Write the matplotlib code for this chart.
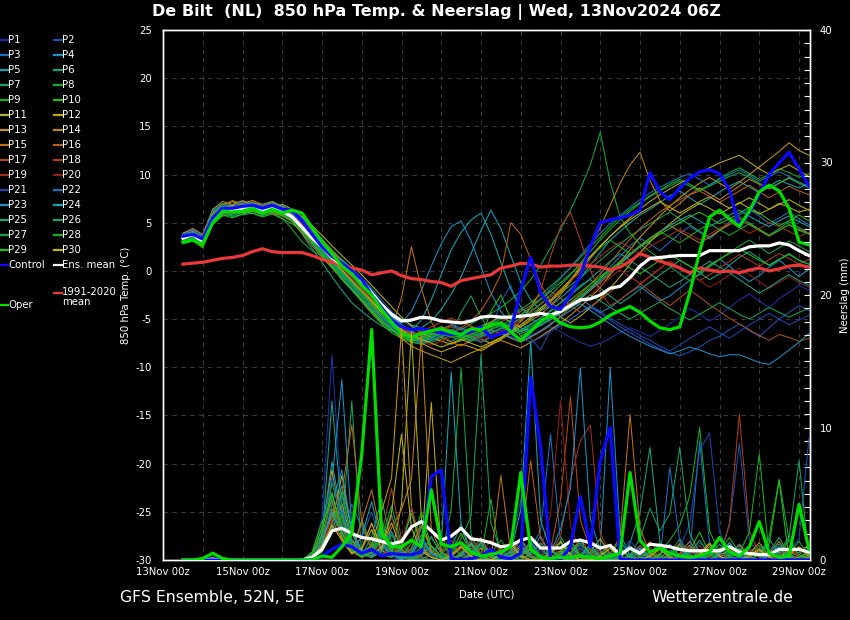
import numpy as np
import matplotlib
matplotlib.use('Agg')
import matplotlib.pyplot as plt
from matplotlib.lines import Line2D
from matplotlib.ticker import MultipleLocator

# ---------------- data ----------------
# 6-hourly steps, first step 13Nov 12z (day 0.5 after 13Nov 00z), 64 steps
n_steps = 64
first_day = 0.5
step_days = 0.25

xtick_days = [0, 2, 4, 6, 8, 10, 12, 14, 16]
xtick_labels = ['13Nov 00z', '15Nov 00z', '17Nov 00z', '19Nov 00z', '21Nov 00z',
                '23Nov 00z', '25Nov 00z', '27Nov 00z', '29Nov 00z']
temp_ticks = [-30, -25, -20, -15, -10, -5, 0, 5, 10, 15, 20, 25]
precip_ticks = [0, 10, 20, 30, 40]

ens_mean_temp = [3.4, 3.8, 3.0, 5.5, 6.3, 6.4, 6.5, 6.6,
                 6.3, 6.6, 6.2, 5.6, 4.5, 3.4, 2.5, 1.4,
                 0.6, -0.3, -1.1, -2.3, -3.5, -4.5, -5.2, -5.1,
                 -4.8, -4.9, -5.2, -5.3, -5.4, -5.2, -4.8, -4.7,
                 -4.8, -4.8, -4.7, -4.6, -4.4, -4.6, -4.2, -3.6,
                 -3.0, -2.9, -2.5, -1.8, -1.6, -0.7, 0.5, 1.3,
                 1.4, 1.5, 1.6, 1.6, 1.6, 2.1, 2.1, 2.1,
                 2.1, 2.5, 2.6, 2.6, 2.9, 2.7, 2.1, 1.6]
clim_temp = [0.7, 0.8, 0.9, 1.1, 1.3, 1.4, 1.6, 2.0,
             2.3, 2.0, 1.9, 1.9, 1.9, 1.6, 1.2, 0.9,
             0.6, 0.3, 0.1, -0.4, -0.2, 0.0, -0.5, -0.8,
             -0.9, -1.1, -1.2, -1.6, -1.0, -0.8, -0.6, -0.4,
             0.3, 0.5, 0.8, 0.7, 0.4, 0.5, 0.5, 0.6,
             0.6, 0.5, 0.4, 0.1, 0.4, 1.0, 1.8, 1.4,
             1.0, 0.7, 0.3, -0.2, 0.3, 0.1, -0.1, 0.0,
             -0.2, 0.1, 0.3, 0.0, 0.2, 0.5, 0.6, 0.4]
control_temp = [3.6, 3.8, 3.3, 5.5, 6.5, 6.5, 6.7, 6.8,
                6.5, 6.8, 6.4, 6.3, 5.2, 3.8, 2.5, 1.5,
                0.8, 0.0, -0.9, -2.5, -3.8, -5.1, -5.8, -6.1,
                -6.0, -6.2, -6.4, -6.6, -6.5, -6.3, -5.8, -6.9,
                -6.5, -6.1, -2.0, 1.4, -2.3, -3.7, -4.0, -2.5,
                -0.5, 2.5, 5.0, 5.3, 5.5, 5.8, 6.3, 10.2,
                8.2, 7.4, 8.6, 9.6, 10.3, 10.5, 10.1, 8.4,
                4.6, 6.0, 8.0, 10.0, 11.2, 12.3, 10.6, 8.8]
oper_temp = [3.0, 3.2, 2.8, 5.0, 6.2, 6.1, 6.2, 6.5,
             6.0, 6.4, 6.0, 6.3, 6.0, 4.5, 3.0, 1.8,
             0.5, -0.3, -1.5, -2.5, -4.0, -5.3, -6.5, -6.9,
             -6.5, -6.2, -6.0, -6.4, -6.6, -6.0, -6.1, -5.6,
             -5.4, -6.3, -7.2, -6.3, -5.2, -4.6, -5.4, -5.8,
             -5.9, -5.8, -5.3, -4.6, -4.1, -3.7, -4.3, -5.2,
             -5.9, -6.1, -5.8, -2.3, 2.0, 5.6, 6.3, 5.4,
             4.6, 6.2, 8.2, 8.9, 8.3, 6.5, 3.0, 2.7]

ens_mean_precip = [0, 0, 0, 0.05, 0, 0, 0, 0,
                   0, 0, 0, 0, 0, 0.2, 0.8, 2.2,
                   2.4, 2.0, 1.7, 1.6, 1.4, 1.2, 1.4, 2.5,
                   2.9, 2.2, 1.5, 1.8, 2.4, 1.6, 1.5, 1.3,
                   1.0, 1.1, 1.5, 1.7, 0.9, 0.9, 0.9, 1.4,
                   1.5, 1.3, 0.9, 1.1, 0.4, 0.9, 0.5, 1.2,
                   1.1, 1.0, 0.8, 0.7, 0.7, 0.7, 0.7, 1.0,
                   0.6, 0.5, 0.4, 0.4, 0.8, 0.8, 0.8, 0.6]
control_precip = [0, 0, 0, 0, 0, 0, 0, 0,
                  0, 0, 0, 0, 0, 0, 0.3, 0.8,
                  1.2, 1.0, 0.5, 0.8, 0.3, 0.5, 0.4, 0.4,
                  0.6, 6.3, 6.8, 0.1, 0, 0.1, 0.3, 0.8,
                  0.2, 0.1, 0.5, 13.8, 8.5, 0.1, 0, 1.0,
                  4.8, 1.0, 7.5, 10.0, 0.1, 0, 0, 0,
                  0, 0, 0, 0, 0, 0, 0, 0,
                  0, 0, 0, 0, 0, 0, 0, 0]
oper_precip = [0, 0, 0.1, 0.5, 0.1, 0, 0, 0,
               0, 0, 0, 0, 0, 0, 0.3, 0.2,
               1.0, 2.0, 8.0, 17.4, 2.0, 1.0, 1.0, 1.5,
               1.0, 5.3, 1.2, 1.0, 1.3, 0.6, 0.3, 0.4,
               0.6, 1.0, 6.6, 0.8, 0.2, 0.1, 0.2, 0.2,
               0.3, 0.2, 0.1, 0.3, 0.5, 6.6, 1.5, 0.6,
               0.9, 0.5, 0.3, 0.2, 0.3, 0.6, 1.7, 0.6,
               0.3, 1.0, 2.9, 0.5, 0.2, 0.3, 4.2, 0.8]

# perturbation members: 850 hPa temperature (°C)
t_p1 = [3.5, 3.9, 3.2, 5.8, 6.6, 6.9, 6.5, 6.8, 6.4, 6.9, 6.5, 5.9, 4.8, 3.6, 2.2, 1.0,
        0.2, -0.8, -1.9, -3.2, -4.6, -5.8, -6.5, -6.9, -7.2, -6.8, -6.5, -6.9, -7.3, -7.0, -6.6, -6.2,
        -6.5, -6.8, -7.1, -6.7, -6.2, -5.8, -6.3, -6.9, -7.4, -7.8, -7.5, -7.0, -6.4, -5.9, -6.3, -6.8,
        -6.2, -5.5, -4.8, -3.9, -4.5, -5.2, -4.6, -3.8, -3.0, -2.4, -3.1, -3.8, -2.9, -2.2, -1.5, -2.0]
t_p2 = [3.8, 4.2, 3.5, 6.0, 6.8, 6.6, 6.9, 7.1, 6.7, 6.5, 6.8, 6.2, 5.5, 4.4, 3.0, 1.8,
        1.0, 0.2, -0.7, -1.8, -3.0, -4.2, -5.1, -5.8, -6.2, -6.6, -6.1, -5.7, -6.0, -6.4, -6.8, -6.3,
        -3.2, -1.5, -4.8, -7.0, -8.2, -6.1, -5.6, -5.0, -4.3, -3.8, -4.4, -5.1, -5.8, -6.4, -7.0, -7.6,
        -8.1, -8.5, -8.8, -8.4, -7.9, -7.2, -6.8, -6.1, -5.5, -6.2, -6.8, -5.9, -5.0, -4.3, -3.6, -4.1]
t_p3 = [3.2, 3.6, 2.8, 5.4, 6.2, 6.0, 6.3, 6.5, 6.1, 6.4, 6.0, 5.2, 4.0, 2.8, 1.6, 0.5,
        -0.5, -1.6, -2.9, -4.0, -5.2, -6.1, -6.8, -7.2, -6.9, -6.5, -6.0, -5.6, -5.9, -6.3, -6.0, -5.4,
        -4.8, -5.3, -5.9, -6.2, -5.7, -5.0, -4.3, -3.5, -2.8, -1.9, -0.8, 0.4, 1.5, 2.6, 3.4, 2.8,
        2.1, 3.0, 3.9, 4.6, 4.0, 3.3, 4.2, 5.1, 5.8, 6.4, 5.7, 4.9, 5.5, 6.1, 5.4, 4.8]
t_p4 = [3.9, 4.3, 3.7, 6.3, 7.0, 6.8, 7.2, 7.0, 6.6, 6.9, 6.4, 6.0, 5.1, 4.0, 2.9, 1.9,
        1.2, 0.3, -0.8, -2.0, -3.3, -4.5, -5.4, -4.2, -2.0, 0.5, 2.8, 4.6, 5.2, 3.1, 0.4, -2.3,
        -4.2, -5.5, -6.3, -6.0, -5.4, -4.8, -4.1, -3.5, -2.9, -3.6, -4.3, -3.8, -3.0, -2.2, -1.6, -2.4,
        -3.1, -2.6, -1.8, -1.0, -0.3, 0.6, 1.2, 0.5, -0.4, -1.1, -0.5, 0.4, 1.1, 0.3, -0.6, 0.2]
t_p5 = [3.6, 4.0, 3.1, 5.7, 6.4, 6.7, 6.3, 6.9, 6.5, 6.8, 6.3, 5.7, 4.6, 3.3, 2.1, 1.2,
        0.4, -0.5, -1.4, -2.6, -3.7, -4.4, -5.0, -5.6, -5.9, -5.2, -4.0, -2.4, -0.6, 1.8, 4.2, 6.3,
        4.4, 1.6, -1.2, -3.0, -4.1, -3.6, -2.8, -1.9, -0.8, 0.6, 1.9, 3.2, 4.1, 5.0, 5.8, 6.4,
        7.1, 7.8, 8.3, 7.6, 6.9, 7.5, 8.2, 8.8, 9.3, 8.7, 8.1, 8.8, 9.4, 9.0, 8.6, 9.1]
t_p6 = [3.0, 3.3, 2.6, 5.0, 5.9, 6.2, 5.8, 6.0, 5.7, 6.1, 5.8, 5.3, 3.8, 2.3, 0.9, -0.6,
        -2.0, -3.3, -4.2, -5.0, -5.7, -6.2, -6.5, -6.3, -6.0, -6.4, -6.9, -7.3, -6.8, -6.2, -5.7, -5.3,
        -5.8, -6.4, -6.1, -5.5, -4.9, -4.2, -3.3, -2.4, -1.5, -0.9, -1.8, -2.6, -3.4, -2.7, -1.9, -1.2,
        -0.4, 0.3, 1.1, 0.5, -0.2, -0.9, -0.3, 0.6, 1.4, 2.0, 1.3, 0.6, 1.2, 1.8, 1.1, 0.7]
t_p7 = [3.4, 3.7, 2.9, 5.2, 6.0, 6.5, 6.8, 6.4, 6.0, 6.3, 6.6, 6.2, 5.4, 4.5, 3.3, 2.2,
        1.1, 0.2, -0.9, -2.1, -3.4, -4.7, -5.9, -6.6, -7.0, -7.4, -7.1, -6.7, -4.3, -2.6, -4.8, -6.5,
        -6.0, -5.6, -5.1, -4.5, -3.8, -3.1, -2.3, -1.5, -0.7, 0.2, 1.1, 2.0, 2.8, 3.6, 4.3, 4.9,
        5.5, 6.1, 5.4, 4.8, 4.1, 3.5, 4.2, 4.9, 5.6, 5.0, 4.3, 3.7, 4.4, 5.1, 4.5, 3.9]
t_p8 = [3.1, 3.4, 2.7, 5.3, 6.1, 5.6, 5.9, 6.2, 5.8, 6.0, 5.5, 4.3, 3.0, 2.1, 1.5, 0.6,
        -0.4, -1.5, -2.7, -3.9, -5.0, -5.8, -6.3, -6.8, -7.1, -6.7, -6.2, -5.8, -6.1, -5.5, -4.9, -4.4,
        -3.8, -3.0, -2.1, -0.9, 0.6, 2.4, 4.3, 6.3, 8.5, 11.0, 14.4, 9.2, 5.6, 3.9, 2.8, 2.0,
        1.3, 0.5, -0.3, -1.0, -0.4, 0.4, 1.2, 1.9, 2.6, 3.2, 2.5, 1.8, 2.4, 3.1, 2.6, 2.0]
t_p9 = [3.3, 3.5, 2.9, 5.6, 6.3, 6.1, 6.6, 6.8, 6.4, 6.7, 6.1, 5.5, 4.2, 3.1, 1.9, 0.9,
        0.0, -1.0, -2.0, -3.1, -4.3, -5.3, -6.0, -6.5, -6.8, -6.4, -6.0, -6.3, -6.7, -6.4, -5.9, -5.5,
        -5.0, -4.6, -4.0, -3.3, -2.5, -1.6, -0.7, 0.3, 1.4, 2.5, 3.5, 4.6, 5.6, 6.4, 7.1, 7.8,
        8.4, 9.0, 9.5, 9.0, 8.4, 8.9, 9.6, 10.2, 10.7, 10.1, 9.5, 10.0, 10.6, 10.2, 9.7, 10.1]
t_p10 = [2.8, 3.1, 2.4, 4.8, 5.7, 5.9, 6.2, 6.0, 5.6, 5.9, 5.4, 4.9, 4.1, 3.0, 1.7, 0.4,
         -0.9, -2.0, -3.2, -4.4, -5.5, -6.4, -7.0, -7.4, -7.6, -7.2, -6.8, -6.5, -6.9, -7.3, -6.9, -4.2,
         -2.5, -5.0, -6.8, -6.2, -5.6, -4.9, -4.1, -3.4, -2.6, -1.7, -0.8, 0.1, 1.0, 1.8, 2.5, 3.1,
         3.8, 4.4, 5.0, 5.6, 6.1, 5.5, 4.9, 5.4, 6.0, 6.6, 6.0, 5.3, 4.7, 5.2, 5.8, 5.2]
t_p11 = [3.7, 4.1, 3.4, 6.1, 6.9, 7.2, 6.7, 6.5, 6.2, 6.6, 6.9, 6.4, 5.6, 4.7, 3.7, 2.6,
         1.6, 0.6, -0.4, -1.5, -2.6, -3.7, -4.8, -5.7, -6.4, -6.9, -7.3, -7.6, -7.2, -6.8, -7.1, -7.5,
         -7.0, -6.3, -5.2, -3.8, -2.1, -3.4, -4.8, -5.4, -4.7, -3.8, -2.9, -1.8, -0.6, 0.7, 1.9, 3.0,
         4.0, 4.9, 5.7, 6.4, 7.0, 6.5, 5.9, 6.5, 7.1, 6.5, 5.9, 6.4, 7.0, 6.6, 6.1, 6.4]
t_p12 = [3.5, 3.8, 3.0, 5.9, 6.7, 6.4, 7.0, 7.3, 6.9, 7.2, 6.7, 6.1, 5.2, 4.1, 2.8, 1.5,
         0.5, -0.6, -1.8, -3.0, -4.2, -5.3, -6.2, -7.0, -7.5, -8.0, -8.4, -8.0, -7.6, -7.9, -8.3, -7.7,
         -7.1, -6.5, -5.8, -5.0, -4.1, -3.2, -2.2, -1.1, 0.1, 1.3, 2.5, 3.6, 4.6, 5.5, 6.4, 7.2,
         7.9, 8.5, 9.1, 9.6, 10.2, 10.7, 11.2, 11.6, 12.0, 11.3, 10.6, 10.0, 10.5, 11.0, 10.4, 9.8]
t_p13 = [3.0, 3.4, 2.6, 5.1, 6.0, 6.3, 6.0, 6.3, 6.0, 6.4, 6.0, 5.6, 4.9, 3.8, 2.6, 1.3,
         0.1, -1.1, -2.3, -3.6, -4.8, -6.0, -7.0, -7.8, -8.3, -8.7, -9.1, -9.5, -9.0, -8.5, -8.1, -7.6,
         -7.2, -7.6, -8.0, -7.4, -6.8, -6.1, -5.4, -4.6, -3.7, -2.8, -1.7, -0.4, 0.9, 2.2, 3.5, 4.6,
         5.7, 6.7, 7.6, 8.4, 9.1, 9.7, 9.1, 8.5, 9.2, 10.0, 10.8, 11.6, 12.4, 13.3, 12.5, 12.0]
t_p14 = [3.9, 4.4, 3.8, 6.4, 7.2, 6.9, 7.3, 6.9, 6.5, 6.8, 6.5, 6.1, 5.3, 4.3, 3.2, 2.1,
         1.0, -0.1, -1.2, -2.3, -3.5, -4.6, -5.6, -6.3, -6.7, -6.2, -5.8, -6.2, -6.6, -6.3, -5.9, -5.3,
         -4.7, -5.3, -5.8, -5.2, -4.5, -3.6, -2.5, -1.1, 0.6, 2.4, 4.5, 6.8, 9.1, 11.0, 12.3, 9.4,
         7.3, 6.2, 7.0, 7.9, 8.6, 8.0, 7.4, 8.1, 8.8, 9.5, 9.0, 8.5, 9.1, 9.7, 9.2, 8.7]
t_p15 = [3.3, 3.6, 2.7, 5.5, 6.2, 6.0, 6.4, 6.7, 6.3, 6.0, 5.7, 5.1, 3.9, 2.6, 1.4, 0.3,
         -0.8, -1.9, -3.1, -4.3, -5.4, -6.0, -2.8, 2.5, -1.8, -5.3, -6.9, -7.4, -7.8, -7.2, -6.6, -6.1,
         -6.5, -7.0, -7.4, -6.9, -6.3, -5.6, -4.7, -3.8, -2.9, -2.0, -1.2, -0.3, 0.7, 1.6, 2.5, 3.3,
         4.0, 4.7, 4.1, 3.5, 2.9, 3.5, 4.2, 4.8, 5.4, 4.8, 4.2, 3.6, 4.2, 4.8, 4.3, 3.9]
t_p16 = [3.6, 4.0, 3.3, 6.0, 6.8, 7.3, 7.0, 6.6, 6.3, 6.6, 6.3, 5.8, 5.0, 4.0, 3.0, 1.9,
         0.8, -0.3, -1.4, -2.5, -3.6, -4.7, -5.7, -6.4, -6.8, -7.2, -6.9, -6.4, -5.9, -5.2, -4.1, -2.5,
         -0.3, 5.0, 3.8, 1.2, -1.4, -3.2, -4.0, -3.3, -2.4, -1.4, -0.3, 0.9, 2.1, 3.3, 4.4, 5.3,
         6.1, 6.8, 7.4, 7.9, 8.3, 7.7, 7.1, 7.7, 8.3, 8.9, 8.2, 7.6, 8.2, 8.8, 8.3, 7.9]
t_p17 = [3.4, 3.7, 3.1, 5.8, 6.6, 6.2, 6.5, 7.0, 6.7, 7.0, 6.6, 6.0, 5.0, 3.9, 2.7, 1.6,
         0.5, -0.5, -1.6, -2.7, -3.8, -4.9, -5.8, -6.5, -6.9, -6.5, -6.1, -5.6, -5.2, -5.7, -6.2, -5.8,
         -5.3, -4.8, -4.2, -3.6, -2.9, -2.1, -2.8, -3.6, -4.3, -3.7, -3.0, -2.2, -1.4, -0.6, -1.3, -2.1,
         -2.9, -3.6, -2.8, -2.0, -2.7, -3.5, -4.2, -4.9, -5.5, -6.1, -6.7, -7.2, -6.6, -6.9, -7.3, -7.0]
t_p18 = [2.9, 3.2, 2.5, 5.0, 5.8, 6.1, 6.5, 6.2, 5.9, 6.2, 5.9, 5.4, 4.5, 3.5, 2.4, 1.3,
         0.3, -0.7, -1.8, -2.9, -4.0, -5.1, -6.0, -6.6, -6.3, -5.8, -5.3, -4.9, -5.3, -5.8, -6.3, -6.8,
         -6.4, -5.9, -5.3, -4.2, -2.0, 1.5, 4.6, 6.1, 3.2, 0.1, -2.3, -3.6, -3.0, -2.2, -1.4, -0.6,
         0.2, 1.0, 0.4, -0.3, -1.0, -0.4, 0.3, 1.0, 1.7, 1.1, 0.5, 1.2, 1.8, 1.3, 0.7, 1.2]
t_p19 = [3.7, 4.0, 3.4, 6.1, 6.8, 6.5, 6.8, 7.2, 6.8, 6.5, 6.1, 5.6, 4.7, 3.6, 2.4, 1.3,
         0.2, -0.9, -2.1, -3.3, -4.5, -5.6, -6.4, -7.0, -7.3, -7.7, -7.3, -6.9, -6.5, -6.9, -7.3, -6.8,
         -6.3, -5.7, -5.0, -4.3, -3.5, -2.7, -1.9, -1.0, -0.2, 0.7, 1.5, 2.3, 3.0, 2.4, 1.8, 2.5,
         3.1, 3.7, 4.3, 3.8, 3.2, 3.8, 4.4, 5.0, 4.5, 3.9, 4.4, 5.0, 4.6, 4.1, 3.6, 4.0]
t_p20 = [3.1, 3.5, 2.8, 5.4, 6.3, 6.6, 6.2, 6.5, 6.2, 6.5, 6.2, 5.7, 4.8, 3.7, 2.5, 1.4,
         0.4, -0.6, -1.7, -2.8, -3.9, -5.0, -5.9, -6.6, -7.0, -6.6, -6.2, -5.8, -6.2, -6.7, -7.1, -6.6,
         -6.0, -5.5, -4.9, -4.3, -4.8, -5.4, -4.8, -4.1, -3.3, -2.5, -1.6, -0.7, 0.1, -0.6, -1.3, -0.5,
         0.3, 1.0, 0.4, -0.3, -1.0, -1.7, -1.1, -0.4, 0.3, -0.4, -1.1, -1.8, -1.2, -0.6, -1.2, -1.7]
t_p21 = [3.5, 3.8, 3.2, 5.7, 6.5, 6.8, 6.6, 6.9, 6.6, 6.3, 6.0, 5.4, 4.3, 3.2, 2.0, 0.8,
         -0.3, -1.4, -2.6, -3.8, -4.9, -5.9, -6.6, -7.1, -7.5, -7.1, -6.7, -6.3, -6.8, -7.2, -6.9, -6.5,
         -6.1, -6.6, -7.0, -7.4, -6.9, -6.3, -5.7, -5.0, -4.3, -3.6, -4.2, -4.9, -5.5, -6.1, -6.7, -7.2,
         -7.8, -8.3, -7.7, -7.0, -6.4, -5.8, -6.4, -7.0, -6.3, -5.6, -5.0, -4.4, -5.0, -5.6, -5.1, -4.6]
t_p22 = [3.8, 4.2, 3.6, 6.2, 7.0, 6.7, 7.1, 6.8, 6.5, 6.8, 6.4, 5.9, 5.0, 3.9, 2.7, 1.6,
         0.6, -0.4, -1.5, -2.6, -3.7, -4.8, -5.7, -6.4, -6.8, -7.2, -6.8, -6.4, -6.0, -6.4, -6.8, -6.4,
         -5.9, -5.3, -4.6, -3.8, -2.9, -1.9, -0.8, 0.4, 1.6, 2.8, 3.9, 4.9, 5.8, 6.6, 7.4, 8.1,
         8.7, 9.2, 9.7, 10.1, 9.5, 8.9, 9.5, 10.0, 10.5, 9.9, 9.3, 9.8, 10.3, 9.8, 9.2, 8.8]
t_p23 = [3.2, 3.6, 2.9, 5.5, 6.4, 6.7, 6.3, 6.6, 6.3, 6.6, 6.2, 5.6, 4.6, 3.5, 2.3, 1.1,
         0.0, -1.1, -2.3, -3.5, -4.7, -5.7, -6.5, -7.1, -7.4, -7.0, -6.5, -6.1, -6.6, -7.0, -7.4, -6.9,
         -6.5, -6.9, -7.3, -6.8, -6.2, -5.5, -4.8, -4.1, -3.4, -4.1, -4.8, -5.5, -6.2, -6.8, -7.3, -7.8,
         -8.2, -8.6, -8.3, -7.9, -8.2, -8.6, -8.9, -8.7, -8.7, -9.1, -9.5, -9.7, -9.0, -8.2, -7.4, -6.5]
t_p24 = [3.6, 3.9, 3.3, 6.0, 6.7, 6.4, 6.8, 7.1, 6.8, 7.1, 6.7, 6.1, 5.1, 4.0, 2.8, 1.7,
         0.7, -0.3, -1.4, -2.5, -3.6, -4.7, -5.6, -6.2, -5.1, -3.0, -0.4, 2.2, 4.0, 5.3, 6.0, 3.8,
         0.9, -1.9, -3.7, -4.9, -5.6, -5.1, -4.4, -3.6, -2.8, -1.9, -1.0, -0.1, 0.8, 1.7, 2.6, 3.4,
         4.1, 4.7, 5.3, 5.8, 5.2, 4.6, 5.2, 5.8, 6.3, 5.7, 5.1, 4.6, 5.2, 5.7, 5.1, 4.6]
t_p25 = [3.0, 3.4, 2.6, 5.2, 6.0, 5.7, 6.1, 6.4, 6.1, 6.4, 6.1, 5.6, 4.4, 3.1, 1.8, 0.6,
         -0.6, -1.8, -3.0, -4.2, -5.3, -6.2, -6.8, -7.2, -6.9, -6.5, -6.1, -6.5, -6.9, -6.6, -6.2, -5.8,
         -5.3, -5.8, -6.2, -5.6, -4.9, -4.1, -3.3, -2.5, -1.7, -0.8, 0.1, 1.0, 1.8, 1.1, 0.4, -0.3,
         -1.0, -1.7, -1.1, -0.4, 0.3, 1.0, 0.4, -0.2, -0.9, -1.6, -2.3, -1.7, -1.0, -0.4, -1.0, -1.5]
t_p26 = [3.4, 3.8, 3.1, 5.6, 6.4, 6.1, 6.5, 6.8, 6.5, 6.2, 5.9, 5.3, 4.3, 3.2, 2.0, 0.9,
         -0.2, -1.3, -2.4, -3.5, -4.6, -5.6, -6.4, -7.0, -7.3, -6.9, -6.5, -6.1, -6.5, -6.9, -6.5, -6.1,
         -5.7, -6.1, -6.5, -6.1, -5.6, -5.0, -4.4, -3.8, -3.2, -2.5, -3.1, -3.8, -4.4, -5.0, -4.4, -3.8,
         -3.2, -3.9, -4.5, -5.1, -4.5, -3.9, -3.3, -3.9, -4.5, -5.0, -4.4, -3.8, -4.3, -4.8, -4.3, -3.9]
t_p27 = [3.2, 3.5, 2.8, 5.3, 6.1, 6.4, 6.1, 6.4, 6.1, 6.4, 6.0, 5.4, 4.3, 3.1, 1.9, 0.8,
         -0.3, -1.4, -2.6, -3.8, -5.0, -6.0, -6.7, -7.3, -7.6, -7.2, -6.8, -6.4, -6.8, -7.2, -6.8, -6.4,
         -6.0, -5.5, -4.9, -4.2, -3.4, -2.5, -1.5, -0.4, 0.8, 2.0, 3.2, 4.3, 5.3, 6.2, 7.0, 7.7,
         8.3, 8.8, 9.3, 8.8, 8.3, 8.8, 9.3, 9.8, 10.2, 9.7, 9.1, 8.6, 9.1, 9.6, 9.1, 8.6]
t_p28 = [3.7, 4.0, 3.4, 6.1, 6.9, 6.6, 6.9, 6.6, 6.3, 6.6, 6.2, 5.6, 4.6, 3.4, 2.2, 1.0,
         -0.1, -1.2, -2.3, -3.4, -4.5, -5.5, -6.3, -6.9, -7.2, -6.8, -6.4, -6.8, -7.2, -6.8, -6.4, -6.0,
         -5.6, -5.1, -4.5, -3.8, -3.0, -2.1, -1.2, -0.3, 0.6, 1.5, 2.4, 3.2, 2.5, 1.8, 2.6, 3.4,
         4.1, 3.5, 2.9, 3.6, 4.3, 4.9, 4.3, 3.7, 4.3, 4.9, 4.3, 3.7, 4.2, 4.8, 4.2, 3.8]
t_p29 = [2.9, 3.2, 2.5, 5.0, 5.8, 5.5, 5.9, 6.2, 5.9, 6.2, 5.8, 5.2, 4.1, 2.9, 1.6, 0.4,
         -0.8, -1.9, -3.0, -4.1, -5.2, -6.1, -6.8, -7.3, -7.0, -6.6, -6.2, -6.6, -7.0, -6.6, -6.2, -5.8,
         -5.4, -5.9, -6.3, -5.8, -5.2, -4.5, -3.8, -3.0, -2.2, -1.4, -0.6, 0.2, 0.9, 0.3, -0.3, 0.4,
         1.1, 1.7, 1.1, 0.5, -0.1, 0.6, 1.2, 1.8, 2.3, 1.7, 1.1, 0.6, 1.2, 1.7, 1.1, 0.7]
t_p30 = [3.3, 3.7, 3.0, 5.7, 6.5, 6.8, 6.4, 6.7, 6.4, 6.7, 6.3, 5.7, 4.7, 3.6, 2.4, 1.2,
         0.1, -1.0, -2.1, -3.2, -4.3, -5.3, -6.1, -6.7, -7.1, -7.5, -7.9, -7.5, -7.1, -7.5, -7.9, -7.4,
         -6.9, -6.3, -5.6, -4.8, -3.9, -3.0, -2.0, -0.9, 0.3, 1.5, 2.6, 3.6, 4.5, 5.3, 6.0, 6.6,
         7.2, 6.6, 6.0, 6.6, 7.2, 7.7, 7.1, 6.5, 7.0, 7.6, 7.0, 6.4, 6.9, 7.4, 6.8, 6.3]

# perturbation members: 6-hourly precipitation (mm)
r_p1 = [0, 0, 0, 0, 0, 0, 0, 0, 0, 0, 0, 0, 0, 0.4, 3.2, 15.5,
        4.1, 1.2, 0.6, 0.3, 0.8, 0.2, 0, 0.5, 1.4, 0.6, 0, 0.2, 0.9, 0.3, 0, 0,
        0.4, 0.2, 0, 0, 0.7, 0.3, 0, 0, 0, 0.5, 1.1, 0.3, 0, 0, 0.2, 0.6,
        0.1, 0, 0, 0.4, 1.3, 0.5, 0, 0, 0.3, 0.9, 0.2, 0, 0.6, 1.8, 0.4, 0.2]
r_p2 = [0, 0, 0, 0.1, 0, 0, 0, 0, 0, 0, 0, 0, 0, 0.2, 1.5, 4.8,
        2.3, 0.9, 1.7, 3.6, 1.1, 0.4, 0.2, 0.8, 0.3, 0, 0.5, 1.9, 0.6, 0, 0, 0.3,
        0.8, 0.2, 0, 0.4, 1.2, 0.3, 0, 0, 0.2, 0.6, 0.1, 0, 0, 0.4, 1.0, 0.2,
        0, 0.3, 0.8, 0.1, 0, 0, 0.5, 2.6, 8.8, 1.5, 0.4, 0, 0.2, 0.7, 1.6, 9.2]
r_p3 = [0, 0, 0, 0, 0, 0, 0, 0, 0, 0, 0, 0, 0, 0.1, 0.9, 2.6,
        1.8, 4.2, 2.5, 0.7, 0.3, 1.4, 0.5, 0.1, 0, 0.4, 1.2, 0.3, 0, 0, 0.6, 0.2,
        0, 0, 0.3, 0.9, 2.2, 9.5, 1.4, 0.4, 1.1, 0.3, 0, 0, 0.2, 0.8, 0.3, 0,
        0, 0, 0.5, 1.4, 0.4, 0, 0, 0.2, 0.6, 0.1, 0, 0.3, 1.0, 0.2, 0, 0]
r_p4 = [0, 0, 0, 0, 0, 0, 0, 0, 0, 0, 0, 0, 0, 0, 0.8, 5.9,
        13.6, 2.4, 0.6, 1.1, 0.4, 0.2, 0.9, 3.8, 1.2, 0.3, 0, 0, 0.5, 0.2, 0, 0.7,
        0.2, 0, 0, 0.6, 1.8, 0.4, 0, 0.3, 1.5, 0.4, 0.8, 14.5, 2.0, 0.3, 0, 0,
        0.4, 1.2, 0.3, 0, 0, 0.6, 0.2, 0, 0, 0.3, 0.9, 0.2, 0, 0.4, 0.1, 0]
r_p5 = [0, 0, 0, 0, 0, 0, 0, 0, 0, 0, 0, 0, 0, 0.3, 2.1, 7.4,
        3.2, 1.0, 0.4, 0.8, 2.6, 0.7, 0.2, 0.5, 2.4, 4.8, 1.1, 14.2, 2.6, 0.4, 0.9, 0.2,
        0, 0.6, 1.7, 0.3, 0, 0, 0.4, 1.1, 0.2, 0, 0, 0.5, 0.2, 0, 0.7, 0.3,
        0, 0, 0.2, 0.8, 0.1, 0, 0, 0.4, 1.2, 0.3, 0, 0, 0.5, 0.2, 0, 0]
r_p6 = [0, 0, 0, 0.2, 0, 0, 0, 0, 0, 0, 0, 0, 0, 0.5, 1.7, 3.3,
        5.6, 2.2, 0.8, 0.4, 1.5, 3.4, 1.0, 0.3, 0.6, 0.2, 0, 0.9, 2.7, 0.6, 0.1, 0,
        0.4, 1.3, 0.2, 0, 0, 0.8, 0.3, 0, 0, 0.2, 0.5, 0.1, 0, 1.3, 3.6, 8.5,
        1.4, 0.3, 0, 0, 0.6, 0.2, 0, 0.3, 0.9, 0.2, 0, 0.4, 1.2, 0.3, 0, 0.1]
r_p7 = [0, 0, 0, 0, 0, 0, 0, 0, 0, 0, 0, 0, 0, 0.2, 1.1, 3.9,
        2.0, 12.0, 0.3, 1.8, 4.6, 1.3, 0.4, 0.2, 0.8, 0.3, 0.1, 0.4, 1.6, 3.3, 15.5, 2.8,
        0.6, 0.2, 0, 0.3, 0.9, 0.2, 0, 0, 0.4, 1.1, 0.3, 0, 0, 0.2, 0.6, 0.1,
        0, 0.5, 1.6, 0.4, 0, 0, 0.3, 0.8, 0.2, 0, 0, 0.6, 1.7, 0.4, 0, 0.2]
r_p8 = [0, 0, 0, 0, 0, 0, 0, 0, 0, 0, 0, 0, 0, 0.1, 0.6, 2.4,
        5.2, 1.6, 0.5, 0.2, 0.7, 2.1, 0.6, 0.3, 1.0, 0.4, 0.2, 3.8, 14.5, 1.9, 0.4, 0,
        0.2, 0.7, 0.2, 0, 0, 0.5, 1.8, 0.4, 0, 0, 0.3, 0.9, 0.2, 0, 0, 0.4,
        1.3, 0.3, 0, 0, 0.2, 0.7, 0.2, 0, 0, 0.4, 1.1, 0.3, 0, 0.2, 0.6, 0.1]
r_p9 = [0, 0, 0, 0.1, 0, 0, 0, 0, 0, 0, 0, 0, 0, 0.4, 2.5, 5.8,
        3.1, 0.9, 0.3, 0.6, 2.2, 0.7, 0.2, 0.8, 2.9, 0.8, 0.2, 0, 0.4, 1.2, 0.3, 4.6,
        0, 0.3, 0.9, 0.2, 0, 0, 0.6, 1.4, 0.3, 0, 0, 0.2, 0.7, 0.2, 0, 0,
        0.5, 1.5, 2.6, 4.8, 10.0, 2.2, 0.5, 0.1, 0, 0.3, 0.8, 0.2, 0, 0.5, 1.4, 0.3]
r_p10 = [0, 0, 0.1, 0.5, 0.1, 0, 0, 0, 0, 0, 0, 0, 0, 0.6, 2.9, 4.4,
         1.7, 0.5, 3.0, 1.1, 0.4, 0.2, 1.2, 3.5, 1.0, 0.3, 0, 0.6, 2.0, 0.5, 0.1, 0,
         0.3, 1.0, 0.2, 0, 0, 0.4, 1.3, 0.3, 0, 0.2, 0.6, 0.1, 0, 0, 0.3, 0.9,
         0.2, 0, 0, 0.7, 2.1, 0.5, 0, 0, 0.2, 0.8, 0.2, 0, 0.4, 1.5, 0.3, 0]
r_p11 = [0, 0, 0, 0, 0, 0, 0, 0, 0, 0, 0, 0, 0, 0.2, 1.3, 3.0,
         1.6, 0.5, 0.8, 2.3, 0.7, 0.4, 4.2, 17.2, 3.1, 0.6, 0.2, 0, 0.5, 1.4, 0.3, 0,
         0, 0.4, 1.0, 0.3, 0, 0, 0.5, 0.2, 0, 0.6, 1.6, 0.4, 0, 0, 0.2, 0.5,
         0.1, 0, 0.4, 1.1, 0.3, 0, 0, 0.3, 0.8, 0.2, 0, 0, 0.6, 0.2, 0, 0]
r_p12 = [0, 0, 0, 0, 0, 0, 0, 0, 0, 0, 0, 0, 0, 0.1, 0.7, 2.8,
         6.4, 2.0, 0.6, 0.3, 1.0, 2.8, 0.8, 0.2, 0.5, 11.9, 0.5, 0.1, 0, 0.3, 0.9, 0.2,
         0, 0, 0.4, 1.3, 0.3, 0, 0, 0.6, 0.2, 0, 0, 0.3, 0.9, 0.2, 0, 0,
         0.4, 0.1, 0, 0, 0.5, 1.3, 0.3, 0, 0, 0.2, 0.7, 0.2, 0, 0.3, 0.9, 0.2]
r_p13 = [0, 0, 0, 0.1, 0, 0, 0, 0, 0, 0, 0, 0, 0, 0.3, 1.9, 6.8,
         2.5, 0.8, 0.3, 1.2, 3.7, 6.2, 17.5, 4.0, 0.9, 0.3, 0, 0.4, 1.1, 0.3, 0, 0,
         0.5, 1.4, 0.4, 0, 0, 0.2, 0.7, 0.2, 0, 0, 0.4, 1.2, 0.3, 0, 0, 0.3,
         0.9, 0.2, 0, 0, 0.4, 1.0, 0.2, 0, 0, 0.5, 1.3, 0.3, 0, 0, 0.4, 0.1]
r_p14 = [0, 0, 0, 0, 0, 0, 0, 0, 0, 0, 0, 0, 0, 0.2, 1.0, 2.2,
         4.3, 1.4, 0.4, 0.2, 0.9, 2.4, 3.8, 6.1, 17.0, 2.3, 0.6, 0.2, 0, 0.4, 1.3, 0.4,
         0, 0, 0.3, 0.8, 0.2, 0, 0, 0.5, 1.6, 0.4, 0, 0, 0.3, 0.9, 0.2, 0,
         0, 0.4, 1.2, 0.3, 0, 0, 0.3, 0.8, 0.2, 0, 0, 0.5, 1.4, 0.3, 0, 0]
r_p15 = [0, 0, 0, 0, 0, 0, 0, 0, 0, 0, 0, 0, 0, 0.1, 0.8, 3.4,
         2.1, 0.6, 2.9, 5.3, 1.6, 0.5, 0.2, 0.9, 2.6, 0.7, 0.2, 0, 0.4, 1.1, 0.3, 0,
         6.4, 0.5, 1.5, 0.4, 0, 0, 0.3, 0.9, 0.2, 0, 0, 0.4, 1.8, 11.0, 2.4, 0.5,
         0.1, 0, 0.3, 0.9, 0.2, 0, 0, 0.4, 1.1, 0.3, 0, 0, 0.3, 0.8, 0.2, 0]
r_p16 = [0, 0, 0, 0.1, 0, 0, 0, 0, 0, 0, 0, 0, 0, 0.2, 1.4, 3.7,
         5.0, 10.2, 2.8, 0.7, 0.3, 1.1, 0.4, 0, 0.3, 1.0, 0.3, 0, 0, 0.6, 1.7, 0.4,
         0, 0.2, 0.9, 7.5, 1.6, 0.4, 0, 0, 0.3, 0.8, 0.2, 0, 0, 0.4, 1.1, 0.3,
         0, 0, 0.5, 1.4, 0.3, 0, 0, 0.2, 0.6, 0.2, 0, 0.3, 0.9, 0.2, 0, 0]
r_p17 = [0, 0, 0, 0, 0, 0, 0, 0, 0, 0, 0, 0, 0, 0.3, 1.6, 4.6,
         1.9, 0.6, 0.2, 0.8, 2.4, 0.7, 0.2, 0.5, 1.5, 0.4, 0, 0.3, 0.9, 0.2, 0, 0,
         0.4, 1.2, 0.3, 0, 0, 0.7, 4.5, 12.3, 3.0, 0.8, 0.2, 0, 0.3, 1.0, 0.3, 0,
         0, 0.4, 1.3, 0.3, 0, 0, 0.5, 0.2, 0, 0.3, 0.9, 0.2, 0, 0, 0.4, 1.2]
r_p18 = [0, 0, 0, 0, 0, 0, 0, 0, 0, 0, 0, 0, 0, 0.1, 0.9, 2.5,
         3.3, 1.0, 0.3, 0.6, 1.9, 5.4, 1.6, 0.5, 0.2, 0, 0.5, 1.5, 0.4, 0, 0, 0.3,
         0.9, 0.2, 0, 0, 0.4, 1.3, 0.3, 0, 0, 0.3, 0.8, 0.2, 0, 0, 0.5, 1.4,
         0.4, 0, 0, 0.3, 0.8, 0.2, 0, 2.8, 11.0, 2.2, 0.5, 0, 0.3, 0.9, 0.2, 0]
r_p19 = [0, 0, 0, 0, 0, 0, 0, 0, 0, 0, 0, 0, 0, 0.2, 1.2, 3.1,
         1.4, 0.4, 0.9, 2.7, 0.8, 0.3, 1.3, 4.0, 1.2, 0.3, 0, 0, 0.6, 1.6, 0.5, 0.1,
         0, 0.3, 0.9, 0.2, 0, 0.4, 1.8, 6.0, 9.0, 10.2, 2.0, 0.5, 0, 0, 0.3, 0.9,
         0.2, 0, 0, 0.4, 1.1, 0.3, 0, 0, 0.3, 0.8, 0.2, 0, 0, 0.4, 1.0, 0.2]
r_p20 = [0, 0, 0, 0, 0, 0, 0, 0, 0, 0, 0, 0, 0, 0.3, 1.4, 2.9,
         2.2, 0.7, 0.2, 0.4, 1.3, 3.2, 1.0, 0.3, 0, 0.4, 1.2, 0.3, 0, 0, 0.5, 1.5,
         0.4, 0, 0, 0.3, 0.8, 3.4, 12.0, 2.6, 0.6, 1.7, 0.4, 0, 0, 0.3, 0.9, 0.2,
         0, 0, 0.4, 1.0, 0.2, 0, 0, 0.3, 0.7, 0.2, 0, 0, 0.4, 1.1, 0.3, 0]
r_p21 = [0, 0, 0, 0, 0, 0, 0, 0, 0, 0, 0, 0, 0, 0.4, 2.2, 6.3,
         2.8, 0.9, 0.3, 0.6, 1.8, 0.5, 0.2, 0.4, 1.3, 0.4, 0, 0, 0.5, 1.4, 0.4, 0,
         0.3, 1.1, 4.6, 1.2, 0.3, 0, 0, 0.4, 1.2, 0.3, 0, 0, 0.5, 1.5, 0.4, 0,
         0, 0.3, 0.9, 2.7, 8.3, 9.6, 2.1, 0.5, 0, 0, 0.4, 1.1, 0.3, 0, 0.2, 0.7]
r_p22 = [0, 0, 0, 0.1, 0, 0, 0, 0, 0, 0, 0, 0, 0, 0.2, 0.9, 2.3,
         3.9, 1.2, 0.4, 0.2, 0.8, 2.2, 0.6, 0.2, 0.6, 1.8, 0.5, 0, 0, 0.4, 1.2, 0.3,
         0, 0, 0.5, 1.4, 0.4, 0, 0, 0.3, 0.9, 0.2, 0, 0, 0.4, 1.1, 0.3, 0,
         0, 7.0, 1.4, 0.4, 9.0, 1.2, 0.2, 0.6, 0.2, 0, 0, 0.4, 1.0, 0.2, 0, 0]
r_p23 = [0, 0, 0, 0, 0, 0, 0, 0, 0, 0, 0, 0, 0, 0.1, 1.0, 4.2,
         6.8, 2.1, 0.6, 0.3, 1.1, 0.4, 0, 0.6, 1.9, 0.5, 0.2, 0, 0.3, 0.9, 0.2, 0,
         0, 0.4, 1.2, 0.3, 0, 0.6, 2.3, 5.4, 14.5, 3.1, 0.7, 0.2, 0, 0.3, 0.9, 0.2,
         0, 0, 0.3, 0.8, 0.2, 0, 0.4, 1.3, 0.3, 0, 0, 0.3, 0.9, 0.2, 0, 0]
r_p24 = [0, 0, 0, 0, 0, 0, 0, 0, 0, 0, 0, 0, 0, 0.2, 1.3, 3.6,
         2.0, 0.6, 1.8, 4.4, 1.3, 0.4, 0.1, 0.5, 1.6, 0.5, 0.2, 0, 0.4, 1.2, 0.3, 0,
         0.2, 0.6, 3.8, 16.5, 3.0, 0.7, 0.2, 0, 0.4, 1.1, 0.3, 0, 0, 0.3, 0.8, 0.2,
         0, 0.3, 0.9, 0.2, 0, 0, 0.5, 1.3, 0.4, 0.1, 0, 0.3, 0.8, 0.2, 0, 0]
r_p25 = [0, 0, 0, 0, 0, 0, 0, 0, 0, 0, 0, 0, 0, 0.3, 1.5, 12.0,
         3.6, 1.1, 0.3, 0.8, 2.4, 0.7, 0.2, 0, 0.4, 1.1, 0.3, 0, 0, 0.5, 1.4, 0.4,
         0, 0, 0.3, 0.9, 0.2, 0, 0.4, 1.1, 0.3, 0, 0, 0.5, 1.4, 0.4, 0, 0,
         0.2, 0.7, 0.2, 0, 0, 0.4, 1.2, 0.3, 0, 0, 0.5, 1.6, 0.4, 0, 0.2, 0.6]
r_p26 = [0, 0, 0, 0, 0, 0, 0, 0, 0, 0, 0, 0, 0, 0.2, 0.8, 2.7,
         4.9, 1.5, 0.5, 0.2, 0.6, 1.9, 0.6, 0.2, 0, 0.5, 1.4, 0.4, 0, 0, 0.3, 0.9,
         0.2, 0, 0, 0.5, 1.3, 0.4, 0, 0, 0.3, 0.9, 0.2, 0, 0, 0.4, 1.6, 3.9,
         2.2, 3.5, 8.5, 2.0, 0.5, 0, 0, 0.3, 0.8, 0.2, 0, 0, 0.6, 1.7, 7.5, 0.1]
r_p27 = [0, 0, 0, 0.1, 0, 0, 0, 0, 0, 0, 0, 0, 0, 0.1, 0.6, 2.0,
         3.4, 1.0, 0.3, 0.5, 1.6, 4.1, 1.2, 0.4, 0.1, 0, 0.4, 1.2, 0.3, 0, 0, 0.5,
         1.5, 0.4, 0, 0, 0.3, 0.8, 0.2, 0, 0, 0.4, 1.1, 0.3, 0, 0, 0.2, 0.6,
         0.2, 0, 0, 0.5, 1.5, 0.4, 0, 0.2, 0.7, 0.2, 0, 1.8, 6.1, 1.5, 0.3, 0]
r_p28 = [0, 0, 0, 0, 0, 0, 0, 0, 0, 0, 0, 0, 0, 0.3, 1.8, 4.9,
         2.6, 0.8, 0.2, 1.0, 3.0, 0.9, 0.3, 0.1, 0.6, 1.7, 0.5, 0.1, 0, 0.4, 1.1, 0.3,
         0, 0, 0.4, 1.1, 0.3, 0, 0, 0.5, 1.3, 0.4, 0, 0, 0.3, 0.9, 0.2, 0,
         0, 0.4, 1.1, 0.3, 0, 0, 0.6, 1.7, 0.5, 2.1, 8.0, 0.3, 0.9, 0.2, 0, 0.4]
r_p29 = [0, 0, 0.2, 0.6, 0.2, 0, 0, 0, 0, 0, 0, 0, 0, 0.4, 2.4, 5.1,
         2.1, 0.7, 0.2, 0.6, 1.9, 0.6, 0.2, 1.3, 3.6, 1.0, 0.3, 0, 0.5, 1.3, 0.4, 0,
         0, 0.3, 0.8, 0.2, 0, 0, 0.5, 1.5, 0.4, 0, 0, 0.3, 0.9, 0.2, 0, 0,
         0.4, 1.1, 0.3, 0, 0, 0.3, 0.9, 0.2, 0, 0, 0.4, 1.2, 6.0, 0, 0.2, 0.6]
r_p30 = [0, 0, 0, 0, 0, 0, 0, 0, 0, 0, 0, 0, 0, 0.2, 1.1, 2.6,
         1.5, 0.5, 0.9, 2.8, 0.8, 3.6, 9.5, 2.4, 0.7, 0.2, 0, 0.3, 1.0, 0.3, 0, 0,
         0.4, 1.2, 0.3, 0, 0, 0.5, 1.4, 0.4, 0, 0, 0.3, 0.9, 0.2, 0, 0, 0.3,
         0.8, 0.2, 0, 0, 0.4, 1.2, 0.3, 0, 0, 0.3, 0.8, 0.2, 0, 0.4, 1.0, 0.3]

member_colors = ['#1a30a8', '#1a50b4', '#1a70c0', '#1a90c8', '#12a4b4',
                 '#12a486', '#12a462', '#12a83e', '#14b022', '#24c010',
                 '#b4b414', '#c4a814', '#c49614', '#c08414', '#c07014',
                 '#b86014', '#b04e14', '#ac3c18', '#a02c18', '#901e18',
                 '#1a48b0', '#1a70c0', '#1a90c8', '#12a4b4', '#12a486',
                 '#12a462', '#12a83e', '#14b022', '#24c010', '#c0b014']
control_color = '#0a0aff'
oper_color = '#00dd00'
mean_color = '#ffffff'
clim_color = '#e83838'

# ---------------- plotting ----------------
member_temps = [t_p1, t_p2, t_p3, t_p4, t_p5, t_p6, t_p7, t_p8, t_p9, t_p10,
                t_p11, t_p12, t_p13, t_p14, t_p15, t_p16, t_p17, t_p18, t_p19, t_p20,
                t_p21, t_p22, t_p23, t_p24, t_p25, t_p26, t_p27, t_p28, t_p29, t_p30]
member_precs = [r_p1, r_p2, r_p3, r_p4, r_p5, r_p6, r_p7, r_p8, r_p9, r_p10,
                r_p11, r_p12, r_p13, r_p14, r_p15, r_p16, r_p17, r_p18, r_p19, r_p20,
                r_p21, r_p22, r_p23, r_p24, r_p25, r_p26, r_p27, r_p28, r_p29, r_p30]
for s in member_temps + member_precs + [ens_mean_temp, clim_temp, control_temp, oper_temp,
                                        ens_mean_precip, control_precip, oper_precip]:
    assert len(s) == n_steps, len(s)

days = first_day + step_days * np.arange(n_steps)

W, H = 850, 620
fig = plt.figure(figsize=(W / 100, H / 100), dpi=100, facecolor='black')
ax = fig.add_axes([163 / W, 1 - 560 / H, 647 / W, 530 / H])
ax.set_facecolor('black')
ax2 = ax.twinx()
ax2.patch.set_visible(False)

thin = 0.75
thick = 2.3
for t, c in zip(member_temps, member_colors):
    ax.plot(days, t, color=c, lw=thin, zorder=2)
ax.plot(days, clim_temp, color=clim_color, lw=thick, zorder=3)
ax.plot(days, ens_mean_temp, color=mean_color, lw=thick, zorder=4)
ax.plot(days, control_temp, color=control_color, lw=thick, zorder=5)
ax.plot(days, oper_temp, color=oper_color, lw=thick, zorder=6)

for r, c in zip(member_precs, member_colors):
    ax2.plot(days, r, color=c, lw=thin, zorder=2)
ax2.plot(days, ens_mean_precip, color=mean_color, lw=thick, zorder=4)
ax2.plot(days, control_precip, color=control_color, lw=thick, zorder=5)
ax2.plot(days, oper_precip, color=oper_color, lw=thick, zorder=6)

ax.set_xlim(0, 647 / 39.75)
ax.set_ylim(-30, 25)
ax2.set_ylim(0, 40)

ax.set_xticks(xtick_days)
ax.set_xticklabels(xtick_labels)
ax.xaxis.set_minor_locator(MultipleLocator(1))
ax.set_yticks(temp_ticks)
ax.set_yticklabels([str(v) for v in temp_ticks])
ax.tick_params(axis='x', which='both', length=0, pad=5, colors='white', labelsize=7.3)
ax.tick_params(axis='y', which='both', length=0, pad=8, colors='white', labelsize=7.3)
ax.grid(True, which='major', axis='y', color='#3a3a3a', linestyle=(0, (4, 4)), lw=0.8)
ax.grid(True, which='both', axis='x', color='#3a3a3a', linestyle=(0, (4, 4)), lw=0.8)
ax.set_axisbelow(True)

ax2.set_yticks(precip_ticks)
ax2.set_yticklabels([str(v) for v in precip_ticks])
ax2.yaxis.set_minor_locator(MultipleLocator(1))
ax2.tick_params(axis='y', which='both', direction='in', length=4, width=0.8,
                color='white', labelcolor='white', labelsize=7.3, pad=7)

for a in (ax, ax2):
    for sp in a.spines.values():
        sp.set_color('white')
        sp.set_linewidth(1.0)

ax.set_xlabel('Date (UTC)', color='white', fontsize=7.3)
ax.xaxis.set_label_coords(0.5, -0.055)
ax.set_ylabel('850 hPa Temp. (°C)', color='white', fontsize=7.3)
ax.yaxis.set_label_coords((131 - 163) / 647, 0.5)
ax2.set_ylabel('Neerslag (mm)', color='white', fontsize=7.3)
ax2.yaxis.set_label_coords((840 - 163) / 647, 0.5)

fig.text(436 / W, 1 - 12 / H, 'De Bilt  (NL)  850 hPa Temp. & Neerslag | Wed, 13Nov2024 06Z',
         color='white', fontsize=11.5, fontweight='bold', ha='center', va='center')
fig.text(120 / W, 1 - 598 / H, 'GFS Ensemble, 52N, 5E', color='white', fontsize=11.3,
         ha='left', va='center')
fig.text(651 / W, 1 - 598 / H, 'Wetterzentrale.de', color='white', fontsize=11.3,
         ha='left', va='center')

# legend (drawn in figure pixels)
def add_entry(x0, y, color, label, lw=1.6):
    fig.add_artist(Line2D([x0 / W, (x0 + 8) / W], [1 - y / H, 1 - y / H],
                          color=color, lw=lw, transform=fig.transFigure))
    fig.text((x0 + 8) / W, 1 - y / H, label, color='white', fontsize=7.3,
             ha='left', va='center', linespacing=0.95)

for k in range(30):
    row = k // 2
    col = k % 2
    add_entry(0 if col == 0 else 54, 40 + 15 * row, member_colors[k], f'P{k + 1}')
add_entry(0, 265, control_color, 'Control')
add_entry(54, 265, mean_color, 'Ens. mean')
add_entry(54, 293, clim_color, '')
fig.text(62 / W, 1 - 287 / H, '1991-2020\nmean', color='white', fontsize=7.3,
         ha='left', va='top', linespacing=0.95)
add_entry(0, 305, oper_color, 'Oper')

fig.savefig('out.png', dpi=100, facecolor='black')
